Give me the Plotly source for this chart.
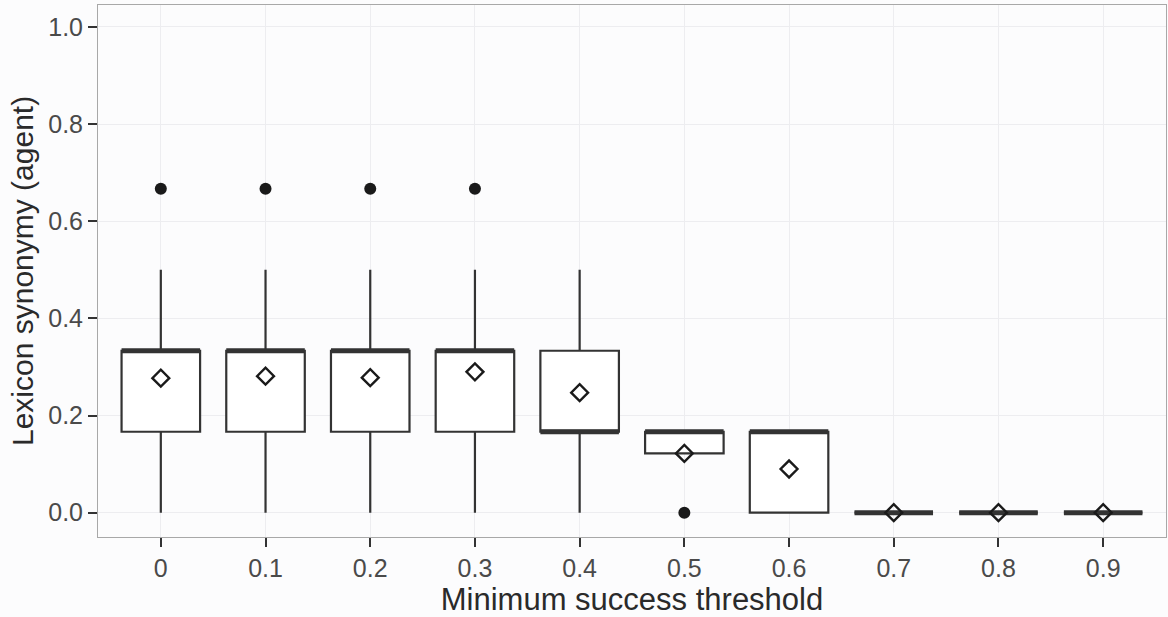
import plotly.graph_objects as go

categories = ["0", "0.1", "0.2", "0.3", "0.4", "0.5", "0.6", "0.7", "0.8", "0.9"]
q1 = [1/6, 1/6, 1/6, 1/6, 1/6, 0.122, 0.0, 0.0, 0.0, 0.0]
median = [1/3, 1/3, 1/3, 1/3, 1/6, 1/6, 1/6, 0.0, 0.0, 0.0]
q3 = [1/3, 1/3, 1/3, 1/3, 1/3, 1/6, 1/6, 0.0, 0.0, 0.0]
lower_whisker = [0.0, 0.0, 0.0, 0.0, 0.0, 0.122, 0.0, 0.0, 0.0, 0.0]
upper_whisker = [0.5, 0.5, 0.5, 0.5, 0.5, 1/6, 1/6, 0.0, 0.0, 0.0]
means = [0.277, 0.281, 0.278, 0.290, 0.247, 0.122, 0.090, 0.0, 0.0, 0.0]
outlier_cat = ["0", "0.1", "0.2", "0.3", "0.5"]
outlier_val = [2/3, 2/3, 2/3, 2/3, 0.0]
y_ticks = [0.0, 0.2, 0.4, 0.6, 0.8, 1.0]
x_title = "Minimum success threshold"
y_title = "Lexicon synonymy (agent)"

LINE = "#333333"
BOX_W = 0.75
xi = list(range(len(categories)))

fig = go.Figure()
fig.add_trace(go.Box(
    x=xi, q1=q1, median=median, q3=q3,
    lowerfence=lower_whisker, upperfence=upper_whisker,
    width=BOX_W, whiskerwidth=0,
    fillcolor="rgba(255,255,255,1)",
    line=dict(color=LINE, width=2.2),
    boxpoints=False, showlegend=False, hoverinfo="skip",
))

# thick median lines (ggplot style)
mx, my = [], []
for i, m in zip(xi, median):
    mx += [i - BOX_W / 2, i + BOX_W / 2, None]
    my += [m, m, None]
fig.add_trace(go.Scatter(x=mx, y=my, mode="lines",
                         line=dict(color=LINE, width=5),
                         showlegend=False, hoverinfo="skip"))

# outliers
cat_index = {c: i for i, c in enumerate(categories)}
fig.add_trace(go.Scatter(
    x=[cat_index[c] for c in outlier_cat], y=outlier_val, mode="markers",
    marker=dict(symbol="circle", size=12, color="#1a1a1a"),
    showlegend=False, hoverinfo="skip"))

# means
fig.add_trace(go.Scatter(
    x=xi, y=means, mode="markers",
    marker=dict(symbol="diamond-open", size=13, color="#1a1a1a",
                line=dict(width=2.4, color="#1a1a1a")),
    showlegend=False, hoverinfo="skip"))

font = "Liberation Sans, Arial, sans-serif"
fig.update_layout(
    width=1168, height=617,
    margin=dict(l=98, r=2, t=5, b=80),
    paper_bgcolor="#fcfcfd",
    plot_bgcolor="#fcfcfd",
    font=dict(family=font, color="#4a4a4a", size=25),
    xaxis=dict(
        range=[-0.6, 9.6], tickmode="array", tickvals=xi, ticktext=categories,
        automargin=False,
        showgrid=True, gridcolor="#ededf0", gridwidth=1, zeroline=False,
        ticks="outside", ticklen=9, tickwidth=2, tickcolor="#333333",
        tickfont=dict(size=25, color="#4a4a4a"),
        showline=True, linecolor="#a8a8a8", linewidth=1, mirror=True,
        title=dict(text=x_title, standoff=0,
                   font=dict(size=31, color="#2a2a2a")),
    ),
    yaxis=dict(
        range=[-0.05, 1.045], tickmode="array", tickvals=y_ticks,
        ticktext=[f"{v:.1f}" for v in y_ticks],
        automargin=False,
        showgrid=True, gridcolor="#ededf0", gridwidth=1, zeroline=False,
        ticks="outside", ticklen=9, tickwidth=2, tickcolor="#333333",
        tickfont=dict(size=25, color="#4a4a4a"),
        showline=True, linecolor="#a8a8a8", linewidth=1, mirror=True,
    ),
    annotations=[dict(
        text=y_title, textangle=-90, xref="paper", yref="paper",
        x=0, y=0.5, xanchor="center", yanchor="middle", xshift=-76,
        showarrow=False, font=dict(size=30, color="#2a2a2a"),
    )],
)

fig.write_html(
    "out.html",
    config={"displayModeBar": False},
    post_script="document.body.style.margin='0';document.body.style.overflow='hidden';",
)
